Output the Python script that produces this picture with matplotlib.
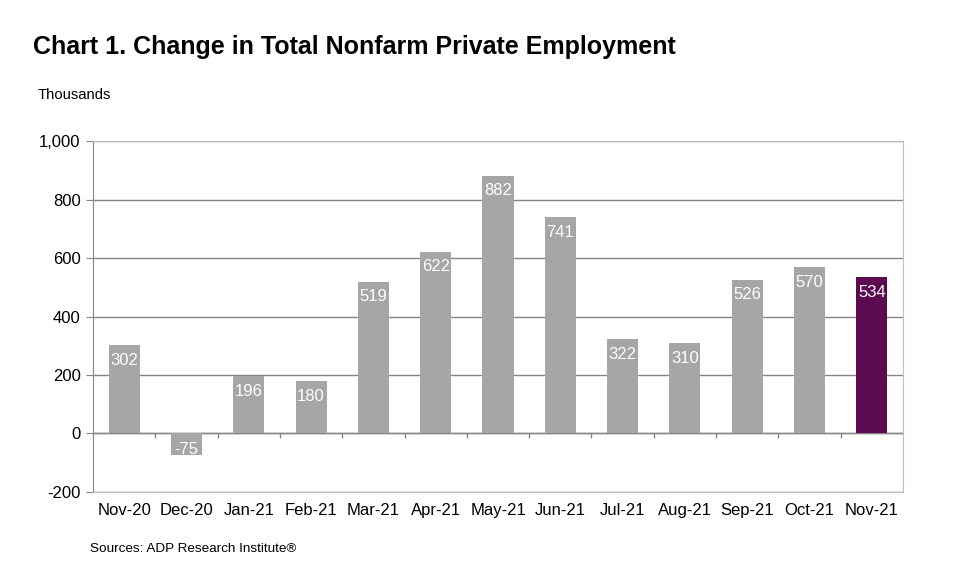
import matplotlib.pyplot as plt
import numpy as np

plt.rcParams['font.family'] = ['Liberation Sans', 'DejaVu Sans']

months = ['Nov-20', 'Dec-20', 'Jan-21', 'Feb-21', 'Mar-21', 'Apr-21', 'May-21',
          'Jun-21', 'Jul-21', 'Aug-21', 'Sep-21', 'Oct-21', 'Nov-21']
values = [302, -75, 196, 180, 519, 622, 882, 741, 322, 310, 526, 570, 534]
y_ticks = [-200, 0, 200, 400, 600, 800, 1000]

gray = '#a6a6a6'
purple = '#5b0a50'
colors = [gray] * (len(values) - 1) + [purple]

fig = plt.figure(figsize=(9.6, 5.83), dpi=100)
ax = fig.add_axes([0.0969, 0.1561, 0.8437, 0.602])

x = np.arange(len(months))
ax.bar(x, values, width=0.5, color=colors, zorder=3)

# value labels inside the bar end
for xi, v in zip(x, values):
    if v >= 0:
        ax.annotate(str(v), (xi, v), xytext=(0, -11), textcoords='offset points',
                    ha='center', va='center', color='white', fontsize=12, zorder=4)
    else:
        ax.annotate(str(v), (xi, v), xytext=(0, 4), textcoords='offset points',
                    ha='center', va='center', color='white', fontsize=12, zorder=4)

ax.set_xlim(-0.5, len(months) - 0.5)
ax.set_ylim(-200, 1000)
ax.set_yticks(y_ticks)
ax.set_yticklabels([f'{t:,}' for t in y_ticks], fontsize=12)
ax.yaxis.grid(True, color='#868686', linewidth=1, zorder=1)
ax.axhline(0, color='#868686', linewidth=1, zorder=2)

# category separators on the zero line
bounds = x[:-1] + 0.5
ax.vlines(bounds, -17, 0, color='#868686', linewidth=1, zorder=2)

ax.set_xticks(x)
ax.set_xticklabels(months, fontsize=12)
ax.tick_params(axis='x', length=0, pad=8)
ax.tick_params(axis='y', length=5, color='#868686', pad=4)

for side in ['top', 'right', 'bottom']:
    ax.spines[side].set_color('#c0c0c0')
ax.spines['left'].set_color('#868686')

fig.text(33 / 960, 1 - 47 / 583, 'Chart 1. Change in Total Nonfarm Private Employment',
         fontsize=18, fontweight='bold', va='center', ha='left')
fig.text(38 / 960, 1 - 95 / 583, 'Thousands', fontsize=10.7, va='center', ha='left')
fig.text(90 / 960, 1 - 549 / 583, 'Sources: ADP Research Institute®', fontsize=9.7,
         va='center', ha='left')

fig.savefig('out.png', dpi=100)
